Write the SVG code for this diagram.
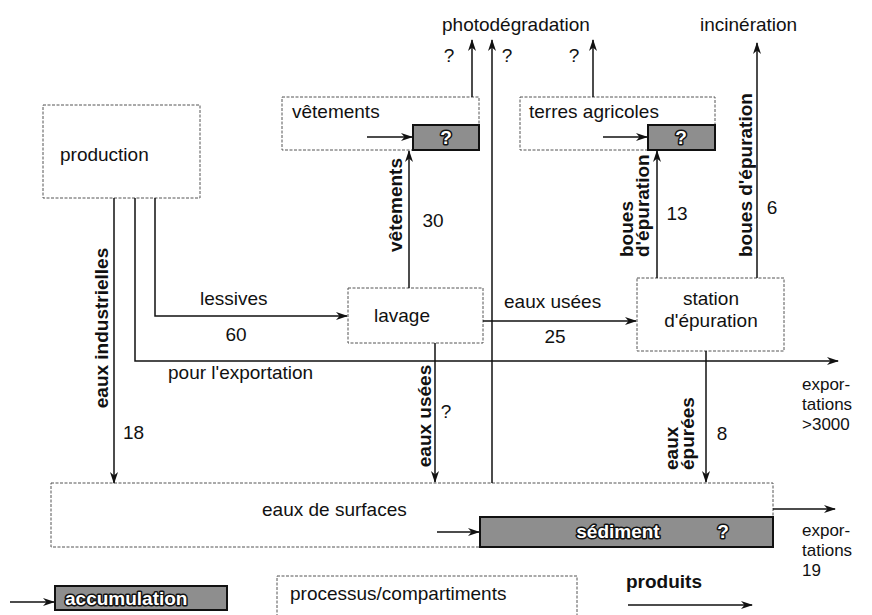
<svg xmlns="http://www.w3.org/2000/svg" width="872" height="615" viewBox="0 0 872 615">
<style>
text{font-family:"Liberation Sans",Arial,sans-serif;font-size:19px;fill:#111}
.b{font-weight:bold}
.sm{font-size:17px}
.box{fill:#fff;stroke:#555;stroke-width:1;stroke-dasharray:3 1.5}
.acc{fill:#8e8e8e;stroke:#111;stroke-width:2}
.acct{font-weight:bold;fill:#fff;stroke:#111;stroke-width:3;paint-order:stroke;stroke-linejoin:round}
.ln{fill:none;stroke:#111;stroke-width:1.5}
.ar{marker-end:url(#ah)}
</style>
<defs>
<marker id="ah" viewBox="0 0 12 8" refX="11" refY="4" markerWidth="12" markerHeight="8" orient="auto" markerUnits="userSpaceOnUse"><path d="M0,0 L12,4 L0,8 L3.5,4 z" fill="#111"/></marker>
</defs>
<rect width="872" height="615" fill="#fff"/>

<g id="production"><rect class="box" x="43" y="105" width="157" height="93"/><text x="60" y="161">production</text></g>

<g id="vetements"><rect class="box" x="282" y="97" width="197" height="53"/><text x="292" y="118">vêtements</text>
<rect class="acc" x="413" y="125" width="66" height="25"/><text class="acct" x="446" y="144" text-anchor="middle">?</text></g>

<g id="terres"><rect class="box" x="520" y="97" width="195" height="53"/><text x="529" y="118">terres agricoles</text>
<rect class="acc" x="648" y="125" width="67" height="25"/><text class="acct" x="681" y="144" text-anchor="middle">?</text></g>

<g id="lavage"><rect class="box" x="348" y="288" width="135" height="55"/><text x="402" y="322" text-anchor="middle">lavage</text></g>

<g id="station"><rect class="box" x="637" y="278" width="147" height="73"/><text x="711" y="305" text-anchor="middle">station</text><text x="711" y="327" text-anchor="middle">d'épuration</text></g>

<g id="surfaces"><rect class="box" x="51" y="483" width="722" height="64"/><text x="262" y="516">eaux de surfaces</text>
<rect class="acc" x="480" y="517" width="293" height="30"/><text class="acct" x="618" y="538" text-anchor="middle">sédiment</text><text class="acct" x="723" y="538" text-anchor="middle">?</text></g>

<g id="legend">
<rect class="acc" x="55" y="586" width="172" height="24"/><text class="acct" x="65" y="605">accumulation</text>
<rect class="box" x="277" y="576" width="300" height="40"/><text x="290" y="600">processus/compartiments</text>
<text class="b" x="626" y="588">produits</text>
</g>

<g id="connectors">
<path class="ln ar" d="M367,137 H412"/>
<path class="ln ar" d="M603,137 H647"/>
<path class="ln ar" d="M437,532 H479"/>
<path class="ln ar" d="M10,602 H54"/>
<path class="ln ar" d="M628,605 H752"/>
<path class="ln ar" d="M472,97 V40"/>
<path class="ln ar" d="M492,483 V40"/>
<path class="ln ar" d="M593,97 V40"/>
<path class="ln ar" d="M114,198 V483"/>
<path class="ln ar" d="M135,198 V361 H838"/>
<path class="ln ar" d="M155,198 V316 H347"/>
<path class="ln ar" d="M409,288 V151"/>
<path class="ln ar" d="M483,321 H636"/>
<path class="ln ar" d="M435,343 V482"/>
<path class="ln ar" d="M657,278 V151"/>
<path class="ln ar" d="M757,278 V43"/>
<path class="ln ar" d="M706,351 V482"/>
<path class="ln ar" d="M773,509 H835"/>
</g>

<g id="labels">
<text x="442" y="31">photodégradation</text>
<text x="700" y="31">incinération</text>
<text x="449" y="62" text-anchor="middle">?</text>
<text x="507" y="62" text-anchor="middle">?</text>
<text x="574" y="62" text-anchor="middle">?</text>
<text class="b" transform="translate(108,328) rotate(-90)" text-anchor="middle">eaux industrielles</text>
<text x="123" y="439">18</text>
<text x="168" y="379">pour l'exportation</text>
<text x="200" y="305">lessives</text>
<text x="236" y="341" text-anchor="middle">60</text>
<text class="b" transform="translate(402,205) rotate(-90)" text-anchor="middle">vêtements</text>
<text x="433" y="227" text-anchor="middle">30</text>
<text x="504" y="308">eaux usées</text>
<text x="555" y="343" text-anchor="middle">25</text>
<text class="b" transform="translate(431,416) rotate(-90)" text-anchor="middle">eaux usées</text>
<text x="446" y="418" text-anchor="middle">?</text>
<text class="b" transform="translate(678,470) rotate(-90)">eaux</text>
<text class="b" transform="translate(694,470) rotate(-90)">épurées</text>
<text x="722" y="440" text-anchor="middle">8</text>
<text class="b" transform="translate(633,257) rotate(-90)">boues</text>
<text class="b" transform="translate(649,257) rotate(-90)">d'épuration</text>
<text x="677" y="220" text-anchor="middle">13</text>
<text class="b" transform="translate(752,257) rotate(-90)">boues d'épuration</text>
<text x="772" y="214" text-anchor="middle">6</text>
<text class="sm" x="802" y="390">expor-</text>
<text class="sm" x="802" y="410">tations</text>
<text class="sm" x="802" y="430">&gt;3000</text>
<text class="sm" x="802" y="536">expor-</text>
<text class="sm" x="802" y="556">tations</text>
<text class="sm" x="802" y="576">19</text>
</g>
</svg>
